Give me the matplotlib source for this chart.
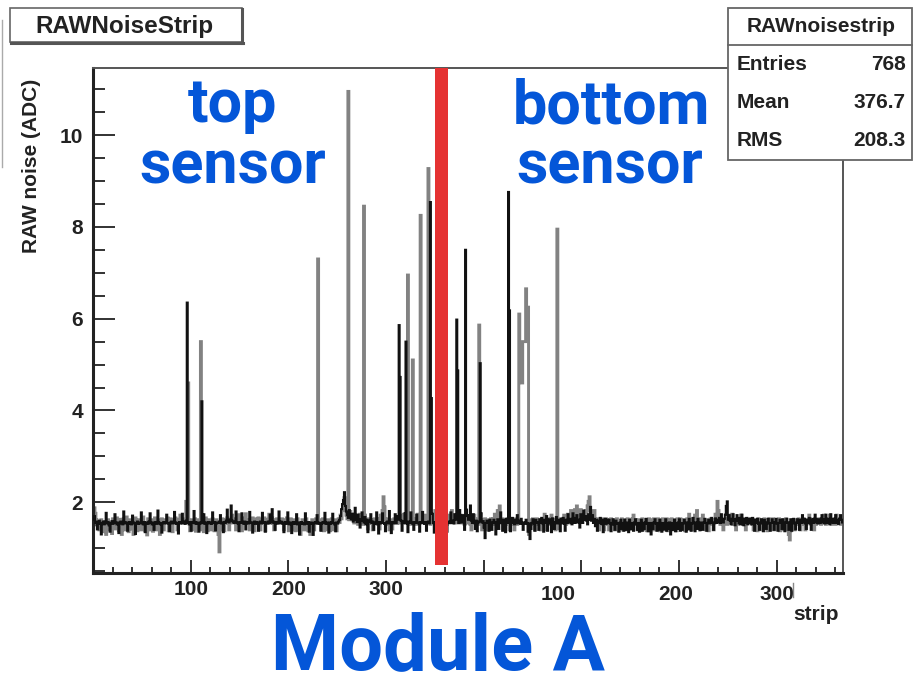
import numpy as np
import matplotlib
matplotlib.use("Agg")
import matplotlib.pyplot as plt
from matplotlib.patches import Rectangle
from matplotlib.lines import Line2D
from matplotlib.ticker import FixedLocator, MultipleLocator, FuncFormatter
from matplotlib.transforms import blended_transform_factory

plt.rcParams["font.family"] = ["Liberation Sans", "DejaVu Sans"]

# ---------------------------------------------------------------- data
n_strips = 768

# raw noise per strip, run drawn in black (ADC)
black_baseline = [
    1.62,1.70,1.55,1.58,1.41,1.56,1.60,1.53,1.30,1.55,1.58,1.52,1.56,1.77,1.54,1.57,1.50,1.36,1.55,1.59,1.53,1.56,1.74,1.55,
    1.52,1.56,1.33,1.54,1.58,1.55,1.52,1.80,1.57,1.54,1.56,1.38,1.53,1.57,1.55,1.52,1.71,1.56,1.54,1.31,1.55,1.58,1.53,1.56,
    1.54,1.78,1.55,1.52,1.57,1.35,1.54,1.56,1.53,1.58,1.76,1.55,1.52,1.56,1.40,1.55,1.57,1.53,1.82,1.56,1.54,1.52,1.34,1.55,
    1.57,1.54,1.56,1.73,1.55,1.53,1.37,1.56,1.58,1.54,1.55,1.79,1.56,1.53,1.55,1.32,1.57,1.54,1.56,1.75,1.55,1.58,1.53,1.60,
    1.56,1.55,1.52,1.57,1.38,1.55,1.56,1.81,1.54,1.57,1.53,1.55,1.36,1.56,1.54,1.58,1.55,1.74,1.53,1.56,1.33,1.55,1.57,1.54,
    1.56,1.53,1.78,1.55,1.57,1.39,1.54,1.56,1.55,1.58,1.72,1.54,1.56,1.35,1.57,1.55,1.60,1.84,1.58,1.56,1.62,1.93,1.60,1.57,
    1.55,1.58,1.80,1.56,1.54,1.37,1.57,1.55,1.76,1.56,1.53,1.58,1.41,1.55,1.57,1.54,1.79,1.56,1.55,1.34,1.56,1.58,1.53,1.57,
    1.55,1.38,1.56,1.58,1.54,1.77,1.55,1.57,1.36,1.56,1.54,1.58,1.55,1.73,1.56,1.85,1.58,1.55,1.40,1.57,1.54,1.56,1.80,1.55,
    1.58,1.54,1.56,1.35,1.55,1.57,1.53,1.78,1.55,1.52,1.56,1.33,1.54,1.57,1.53,1.55,1.74,1.52,1.56,1.30,1.54,1.57,1.53,1.55,
    1.52,1.76,1.55,1.53,1.57,1.36,1.54,1.56,1.53,1.29,1.55,1.57,1.54,1.72,1.56,1.53,1.55,1.38,1.54,1.57,1.55,1.77,1.53,1.56,
    1.54,1.34,1.56,1.53,1.57,1.75,1.55,1.52,1.37,1.56,1.54,1.58,1.62,1.70,1.85,1.96,2.05,2.22,1.92,1.80,1.72,1.66,1.83,1.70,
    1.63,1.75,1.58,1.66,1.88,1.62,1.57,1.73,1.60,1.45,1.63,1.78,1.60,1.56,1.68,1.52,1.62,1.35,1.60,1.57,1.74,1.55,1.58,1.40,
    1.56,1.53,1.78,1.55,1.32,1.57,1.54,1.56,1.76,1.55,1.53,1.37,1.56,1.58,1.54,1.81,1.55,1.33,1.57,1.54,1.56,1.74,1.55,1.70,
    1.62,1.85,1.72,1.60,1.38,1.58,1.55,1.76,1.57,1.54,1.35,1.58,1.55,1.78,1.56,1.53,1.40,1.57,1.55,1.73,1.56,1.54,1.36,1.57,
    1.55,1.79,1.56,1.53,1.57,1.38,1.55,1.58,1.54,1.60,1.56,1.75,1.55,1.34,1.57,1.54,1.56,1.77,1.55,1.53,1.39,1.56,1.58,1.54,
    1.57,1.55,1.36,1.56,1.58,1.55,1.78,1.56,1.60,1.54,1.74,1.62,1.56,1.58,1.55,1.83,1.60,1.56,1.72,1.58,1.40,1.60,1.84,1.70,
    1.62,1.72,1.93,1.60,1.55,1.74,1.58,1.42,1.60,1.37,1.56,1.58,1.55,1.76,1.56,1.59,1.45,1.22,1.55,1.60,1.56,1.38,1.62,1.55,
    1.40,1.56,1.62,1.55,1.30,1.57,1.63,1.42,1.56,1.78,1.55,1.38,1.62,1.56,1.35,1.64,1.55,1.60,1.56,1.37,1.55,1.66,1.55,1.52,
    1.62,1.54,1.72,1.55,1.60,1.53,1.64,1.55,1.40,1.56,1.53,1.62,1.55,1.36,1.54,1.20,1.42,1.55,1.63,1.54,1.38,1.62,1.55,1.57,
    1.40,1.63,1.55,1.66,1.54,1.36,1.62,1.55,1.70,1.38,1.56,1.63,1.54,1.35,1.65,1.55,1.42,1.57,1.68,1.54,1.62,1.55,1.37,1.64,
    1.55,1.66,1.53,1.38,1.62,1.55,1.74,1.60,1.56,1.64,1.52,1.76,1.60,1.55,1.66,1.72,1.56,1.62,1.45,1.74,1.60,1.55,1.82,1.62,
    1.70,1.60,1.52,1.74,1.62,1.90,1.60,1.72,1.55,1.64,1.48,1.62,1.38,1.60,1.55,1.66,1.53,1.62,1.35,1.56,1.64,1.53,1.62,1.55,
    1.62,1.54,1.37,1.55,1.63,1.52,1.40,1.60,1.55,1.53,1.36,1.55,1.62,1.42,1.55,1.38,1.62,1.54,1.40,1.56,1.35,1.62,1.54,1.41,
    1.55,1.38,1.56,1.63,1.52,1.40,1.55,1.36,1.54,1.62,1.38,1.55,1.42,1.56,1.64,1.53,1.37,1.55,1.40,1.30,1.55,1.42,1.56,1.63,
    1.54,1.38,1.55,1.40,1.62,1.55,1.36,1.54,1.41,1.55,1.63,1.38,1.55,1.42,1.56,1.30,1.55,1.40,1.54,1.62,1.37,1.55,1.42,1.56,
    1.63,1.38,1.55,1.40,1.54,1.62,1.55,1.36,1.56,1.41,1.64,1.55,1.38,1.54,1.66,1.55,1.37,1.56,1.42,1.64,1.55,1.39,1.56,1.54,
    1.40,1.56,1.64,1.55,1.38,1.55,1.62,1.54,1.56,1.66,1.55,1.40,1.56,1.65,1.55,1.62,1.56,1.66,1.55,1.74,1.62,1.56,1.64,1.73,
    1.92,2.02,1.62,1.72,1.60,1.52,1.64,1.74,1.60,1.50,1.63,1.72,1.60,1.54,1.66,1.52,1.73,1.62,1.50,1.64,1.55,1.66,1.52,1.63,
    1.55,1.64,1.52,1.66,1.54,1.38,1.62,1.55,1.64,1.53,1.40,1.56,1.63,1.54,1.37,1.62,1.55,1.42,1.56,1.64,1.54,1.38,1.55,1.63,
    1.55,1.40,1.56,1.64,1.54,1.38,1.55,1.62,1.56,1.42,1.63,1.55,1.37,1.56,1.64,1.55,1.40,1.56,1.63,1.38,1.55,1.64,1.54,1.41,
    1.56,1.63,1.55,1.40,1.62,1.55,1.72,1.56,1.64,1.54,1.42,1.62,1.55,1.66,1.54,1.40,1.63,1.55,1.64,1.73,1.56,1.63,1.54,1.62,
    1.55,1.64,1.72,1.56,1.63,1.54,1.73,1.62,1.55,1.64,1.52,1.74,1.56,1.63,1.55,1.64,1.72,1.55,1.62,1.53,1.64,1.72,1.62,1.56,
]

# raw noise per strip, run drawn in grey (ADC)
gray_baseline = [
    1.80,1.88,1.76,1.62,1.50,1.58,1.40,1.56,1.62,1.54,1.36,1.58,1.55,1.30,1.56,1.62,1.54,1.40,1.55,1.32,1.64,1.55,1.42,1.56,
    1.66,1.54,1.38,1.55,1.63,1.30,1.56,1.64,1.40,1.55,1.68,1.54,1.36,1.56,1.62,1.42,1.55,1.30,1.56,1.66,1.54,1.38,1.62,1.55,
    1.56,1.40,1.55,1.68,1.54,1.38,1.56,1.29,1.64,1.55,1.40,1.62,1.56,1.37,1.55,1.66,1.40,1.55,1.62,1.54,1.30,1.56,1.64,1.55,
    1.40,1.62,1.55,1.56,1.66,1.38,1.55,1.64,1.56,1.36,1.62,1.55,1.66,1.54,1.40,1.63,1.56,1.72,1.55,1.64,1.54,1.62,1.56,2.02,
    1.90,1.64,1.55,1.38,1.62,1.55,1.40,1.56,1.64,1.37,1.55,1.62,1.54,1.40,1.56,1.64,1.55,1.36,1.55,1.66,1.54,1.38,1.62,1.55,
    1.56,1.40,1.64,1.55,1.38,1.56,1.62,1.54,1.30,0.92,1.40,1.55,1.64,1.55,1.38,1.62,1.55,1.66,1.54,1.40,1.63,1.55,1.72,1.56,
    1.64,1.55,1.40,1.62,1.55,1.73,1.54,1.64,1.38,1.55,1.66,1.54,1.75,1.55,1.62,1.54,1.40,1.64,1.55,1.66,1.54,1.38,1.56,1.64,
    1.55,1.66,1.54,1.40,1.55,1.64,1.56,1.66,1.38,1.55,1.63,1.54,1.74,1.62,1.55,1.66,1.54,1.40,1.62,1.55,1.64,1.54,1.62,1.55,
    1.56,1.64,1.54,1.40,1.62,1.55,1.66,1.54,1.38,1.55,1.64,1.54,1.40,1.62,1.55,1.38,1.56,1.64,1.40,1.55,1.30,1.56,1.62,1.54,
    1.40,1.56,1.64,1.55,1.38,1.54,1.30,1.55,1.62,1.54,1.40,1.55,1.64,1.55,1.38,1.56,1.62,1.40,1.55,1.64,1.38,1.55,1.56,1.40,
    1.62,1.55,1.38,1.56,1.64,1.40,1.55,1.62,1.54,1.38,1.55,1.64,1.56,1.72,1.64,1.82,1.92,2.10,1.84,1.72,1.64,1.74,1.62,1.80,
    1.72,1.62,1.74,1.55,1.64,1.72,1.62,1.52,1.64,1.74,1.55,1.62,1.52,1.64,1.72,1.55,1.62,1.42,1.64,1.55,1.62,1.54,1.40,1.62,
    1.64,1.55,1.62,1.52,1.64,1.42,1.72,1.64,1.82,2.12,1.90,1.62,1.55,1.64,1.52,1.40,1.62,1.55,1.42,1.56,1.64,1.55,1.62,1.54,
    1.62,1.55,1.64,1.72,1.62,1.55,1.74,1.62,1.55,1.64,1.72,1.55,1.62,1.52,1.64,1.72,1.62,1.55,1.64,1.52,1.74,1.62,1.55,1.64,
    1.62,1.55,1.64,1.72,1.54,1.62,1.64,1.55,1.62,1.52,1.74,1.62,1.55,1.64,1.82,1.72,1.62,1.74,1.55,1.62,1.52,1.72,1.62,1.55,
    1.55,1.62,1.52,1.72,1.64,1.55,1.62,1.82,1.62,1.72,1.55,1.64,1.72,1.62,1.55,1.64,1.72,1.62,1.55,1.64,1.52,1.72,1.62,1.55,
    1.55,1.64,1.52,1.40,1.62,1.55,1.72,1.64,1.55,1.62,1.52,1.74,1.62,1.55,1.40,1.62,1.55,1.64,1.52,1.40,1.62,1.55,1.42,1.64,
    1.55,1.64,1.52,1.74,1.62,1.55,1.82,1.72,1.92,1.62,1.55,1.64,1.40,1.55,1.62,1.52,1.64,1.55,1.40,1.62,1.55,1.64,1.52,1.40,
    1.55,1.64,1.52,1.62,1.55,1.64,1.52,1.62,1.55,1.64,1.52,1.62,1.55,1.40,1.30,1.55,1.62,1.52,1.64,1.55,1.40,1.55,1.64,1.52,
    1.62,1.55,1.40,1.52,1.64,1.55,1.74,1.52,1.40,1.62,1.55,1.64,1.52,1.72,1.55,1.62,1.52,1.40,1.64,1.55,1.62,1.42,1.55,1.64,
    1.62,1.55,1.72,1.64,1.52,1.62,1.74,1.55,1.64,1.82,1.72,1.62,1.74,1.84,1.72,1.92,1.82,1.74,1.62,1.84,1.72,1.62,1.74,1.64,
    1.82,1.72,1.92,2.02,2.12,1.82,1.72,1.62,1.74,1.82,1.62,1.52,1.64,1.55,1.40,1.62,1.55,1.64,1.52,1.40,1.55,1.64,1.52,1.62,
    1.40,1.55,1.64,1.52,1.62,1.55,1.40,1.52,1.64,1.55,1.38,1.55,1.52,1.64,1.40,1.55,1.62,1.52,1.40,1.64,1.55,1.52,1.62,1.55,
    1.64,1.72,1.52,1.62,1.55,1.40,1.62,1.55,1.38,1.52,1.64,1.55,1.40,1.62,1.55,1.38,1.52,1.64,1.55,1.62,1.40,1.55,1.64,1.52,
    1.40,1.55,1.64,1.52,1.38,1.62,1.55,1.64,1.52,1.40,1.55,1.64,1.38,1.55,1.62,1.52,1.64,1.40,1.55,1.62,1.52,1.38,1.64,1.55,
    1.52,1.64,1.55,1.40,1.62,1.55,1.38,1.52,1.64,1.55,1.74,1.62,1.52,1.40,1.64,1.55,1.72,1.62,1.82,1.64,1.52,1.62,1.55,1.64,
    1.72,1.62,1.52,1.40,1.62,1.55,1.38,1.52,1.64,1.55,1.62,1.40,1.55,1.74,1.62,2.02,1.82,1.62,1.52,1.64,1.55,1.40,1.62,1.55,
    1.64,1.52,1.72,1.62,1.55,1.64,1.74,1.52,1.62,1.55,1.40,1.64,1.52,1.62,1.55,1.72,1.62,1.52,1.64,1.55,1.40,1.62,1.55,1.64,
    1.62,1.55,1.64,1.52,1.40,1.55,1.62,1.52,1.38,1.64,1.55,1.62,1.52,1.40,1.55,1.64,1.52,1.62,1.38,1.55,1.64,1.52,1.40,1.55,
    1.64,1.52,1.40,1.55,1.62,1.52,1.64,1.38,1.55,1.62,1.52,1.40,1.55,1.64,1.52,1.40,1.30,1.18,1.38,1.55,1.62,1.52,1.40,1.55,
    1.62,1.52,1.64,1.55,1.40,1.62,1.52,1.64,1.55,1.40,1.52,1.62,1.55,1.72,1.64,1.52,1.62,1.55,1.40,1.64,1.52,1.62,1.55,1.64,
    1.62,1.52,1.64,1.55,1.72,1.62,1.52,1.64,1.55,1.62,1.72,1.64,1.52,1.62,1.55,1.64,1.52,1.72,1.62,1.55,1.64,1.52,1.62,1.64,
]

# noisy strips (strip index, ADC)
black_spike_bins = [96, 111, 313, 314, 320, 345, 346, 372, 373, 381, 396, 425, 426]
black_spike_vals = [6.35, 4.2, 5.86, 4.73, 5.5, 8.54, 4.27, 5.98, 4.87, 7.5, 5.03, 8.76, 6.18]

gray_spike_bins = [97, 110, 230, 261, 277, 322, 327, 335, 343, 395,
                   436, 437, 438, 439, 440, 441, 442, 443, 444, 445, 475]
gray_spike_vals = [4.6, 5.5, 7.3, 10.95, 8.45, 6.95, 5.1, 8.25, 9.27, 5.86,
                   6.1, 4.6, 4.6, 4.6, 5.5, 5.5, 5.5, 6.65, 6.25, 6.25, 7.95]

# statistics box
stats_title = "RAWnoisestrip"
stats_names = ["Entries", "Mean", "RMS"]
stats_values = ["768", "376.7", "208.3"]

# axis ticks
x_major = [100, 200, 300, 400, 500, 600, 700]
x_labels_top = {100: "100", 200: "200", 300: "300"}
x_labels_bottom_pos = [476, 597, 700]
x_labels_bottom = ["100", "200", "300"]
y_major = [2, 4, 6, 8, 10]

# sensor boundary marker (strip range)
boundary_lo, boundary_hi = 350.2, 363.5

# ---------------------------------------------------------------- figure
W, H = 917, 686
fig = plt.figure(figsize=(W / 100, H / 100), dpi=100)
fig.patch.set_facecolor("white")


def fx(px):
    return px / W


def fy(py):
    return 1 - py / H


ax = fig.add_axes([fx(93), fy(573), fx(843) - fx(93), fy(68) - fy(573)])

gray = np.array(gray_baseline, dtype=float)
gray[gray_spike_bins] = gray_spike_vals
black = np.array(black_baseline, dtype=float)
black[black_spike_bins] = black_spike_vals

ax.stairs(gray, np.arange(len(gray) + 1), baseline=None, color="#828282", lw=2.1, zorder=2)
ax.stairs(black, np.arange(len(black) + 1), baseline=None, color="#111111", lw=1.5, zorder=3)

ax.set_xlim(0, n_strips)
ax.set_ylim(0.46, 11.46)

# sensor boundary
ax.axvspan(boundary_lo, boundary_hi, ymin=0.016, ymax=1.0,
           color="#e53232", lw=0, zorder=6, clip_on=False)

# spines
for s in ["left", "bottom"]:
    ax.spines[s].set_linewidth(2.2)
    ax.spines[s].set_color("#222222")
for s in ["top", "right"]:
    ax.spines[s].set_linewidth(1.4)
    ax.spines[s].set_color("#555555")

# ticks
ax.xaxis.set_major_locator(FixedLocator(x_major))
ax.xaxis.set_minor_locator(MultipleLocator(20))
ax.xaxis.set_major_formatter(FuncFormatter(lambda v, p: x_labels_top.get(int(round(v)), "")))
ax.yaxis.set_major_locator(FixedLocator(y_major))
ax.yaxis.set_minor_locator(MultipleLocator(0.5))
ax.yaxis.set_major_formatter(FuncFormatter(lambda v, p: f"{v:.0f}"))

ax.tick_params(axis="x", which="major", direction="in", length=9.5, width=1.3,
               color="#222222", labelsize=15, pad=5, labelcolor="#222222")
ax.tick_params(axis="x", which="minor", direction="in", length=4.3, width=1.3,
               color="#222222")
ax.tick_params(axis="y", which="major", direction="in", length=16, width=1.3,
               color="#222222", labelsize=15, pad=7, labelcolor="#222222")
ax.tick_params(axis="y", which="minor", direction="in", length=8.6, width=1.3,
               color="#222222")
for lab in ax.get_xticklabels() + ax.get_yticklabels():
    lab.set_fontweight("bold")

trans = blended_transform_factory(ax.transData, ax.transAxes)
for pos, lab in zip(x_labels_bottom_pos, x_labels_bottom):
    ax.text(pos, -0.042, lab, transform=trans, ha="center", va="center",
            fontsize=15, fontweight="bold", color="#222222", clip_on=False)

# axis titles
fig.text(fx(32), fy(166), "RAW noise (ADC)", rotation=90, ha="center", va="center",
         fontsize=15, fontweight="bold", color="#222222")
fig.text(fx(816), fy(615), "strip", ha="center", va="center",
         fontsize=15, fontweight="bold", color="#222222")
fig.add_artist(Line2D([fx(793), fx(793)], [fy(583), fy(597)], color="#888888", lw=1.0))

# histogram title box
fig.add_artist(Rectangle((fx(10), fy(42)), fx(242) - fx(10), fy(8) - fy(42),
                         facecolor="white", edgecolor="#666666", lw=1.2, zorder=10))
fig.add_artist(Line2D([fx(11), fx(243)], [fy(42.5), fy(42.5)], color="#555555", lw=2.2, zorder=11))
fig.add_artist(Line2D([fx(242.5), fx(242.5)], [fy(9), fy(43)], color="#555555", lw=2.2, zorder=11))
fig.text(fx(124), fy(26), "RAWNoiseStrip", ha="center", va="center",
         fontsize=17.5, fontweight="bold", color="#222222", zorder=12)
fig.add_artist(Line2D([fx(1.5), fx(1.5)], [fy(20), fy(167)], color="#aaaaaa", lw=1.0))

# statistics box
fig.add_artist(Rectangle((fx(728), fy(160)), fx(912) - fx(728), fy(8) - fy(160),
                         facecolor="white", edgecolor="#666666", lw=1.3, zorder=10))
fig.add_artist(Line2D([fx(728), fx(912)], [fy(45), fy(45)], color="#666666", lw=1.3, zorder=11))
fig.text(fx(821), fy(27), stats_title, ha="center", va="center",
         fontsize=15, fontweight="bold", color="#222222", zorder=12)
for i, (name, val) in enumerate(zip(stats_names, stats_values)):
    yy = 65 + 38 * i
    fig.text(fx(737), fy(yy), name, ha="left", va="center",
             fontsize=15, fontweight="bold", color="#222222", zorder=12)
    fig.text(fx(906), fy(yy), val, ha="right", va="center",
             fontsize=15, fontweight="bold", color="#222222", zorder=12)

# annotations
blue = "#0456d8"
hand = dict(family=["Roboto", "DejaVu Sans"], fontweight="bold", color=blue,
            ha="center", va="baseline", zorder=12)
fig.text(fx(233), fy(122), "top", fontsize=44, **hand)
fig.text(fx(233), fy(183), "sensor", fontsize=44, **hand)
fig.text(fx(611), fy(124), "bottom", fontsize=44, **hand)
fig.text(fx(610), fy(184), "sensor", fontsize=44, **hand)
fig.text(fx(438), fy(669), "Module A", fontsize=56, **hand)

fig.savefig("out.png", dpi=100, facecolor="white")
